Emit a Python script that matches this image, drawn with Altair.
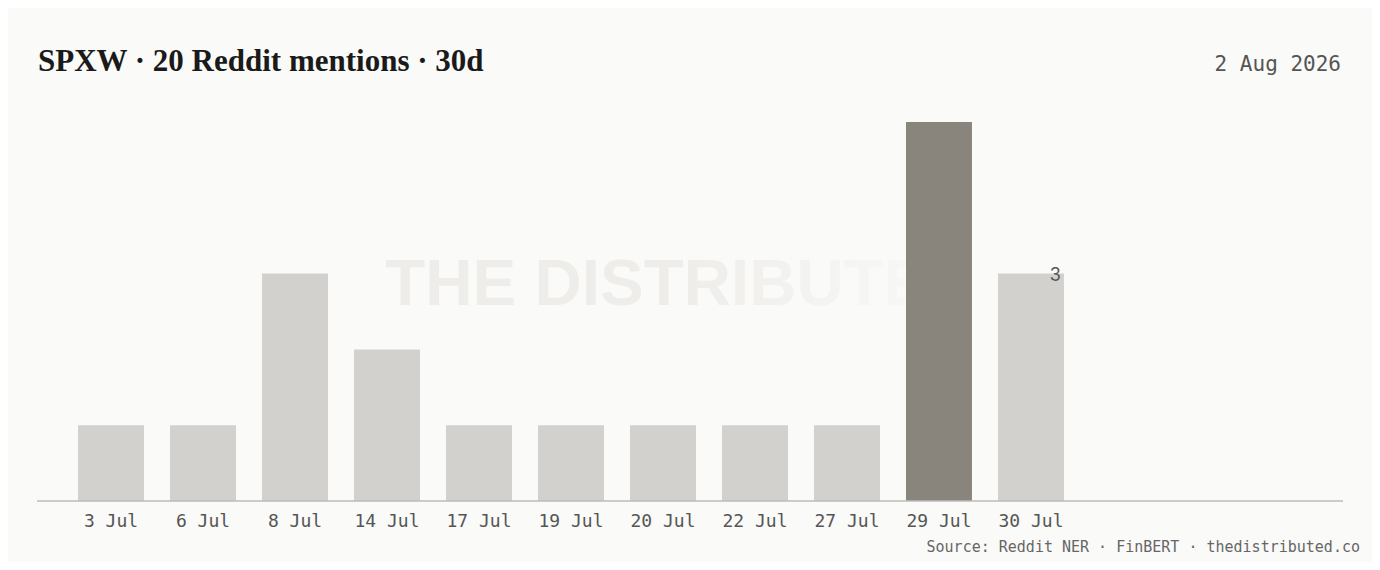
import pandas as pd
import altair as alt

# mentions per day, last 30 days
days = ["3 Jul", "6 Jul", "8 Jul", "14 Jul", "17 Jul", "19 Jul", "20 Jul",
        "22 Jul", "27 Jul", "29 Jul", "30 Jul"]
mentions = [1, 1, 3, 2, 1, 1, 1, 1, 1, 5, 3]

TITLE = "SPXW · 20 Reddit mentions · 30d"
DATE_LABEL = "2 Aug 2026"
SOURCE = "Source: Reddit NER · FinBERT · thedistributed.co"
WATERMARK = "THE DISTRIBUTED"

BG = "#FAFAF8"
BAR = "#D3D1CD"
PEAK = "#8A857C"
INK = "#555555"
MONO = "DejaVu Sans Mono"

W, H = 1306, 379

df = pd.DataFrame({"day": days, "mentions": mentions})
df["peak"] = df["mentions"] == df["mentions"].max()

x_enc = alt.X("day:N", sort=days, title=None,
              scale=alt.Scale(range=[0, 1068], paddingInner=0.283, paddingOuter=0.446),
              axis=alt.Axis(domain=False, ticks=False, labelAngle=0, labelFont=MONO,
                            labelFontSize=18, labelColor=INK, labelPadding=11))
y_enc = alt.Y("mentions:Q", title=None, axis=None,
              scale=alt.Scale(domain=[0, 5], nice=False))


def label(text, **mark):
    # one-row layer for a piece of free text
    return alt.Chart(pd.DataFrame({"t": [text]})).mark_text(**mark).encode(text="t:N")


watermark = label(
    WATERMARK, font="Liberation Sans", fontWeight="bold", fontSize=65.5,
    align="center", baseline="middle",
    color=alt.Gradient(gradient="linear", x1=0, x2=1, y1=0, y2=0,
                       stops=[alt.GradientStop(color="#EEEDEA", offset=0),
                              alt.GradientStop(color="#EEEDEA", offset=0.5),
                              alt.GradientStop(color=BG, offset=1)])
).encode(x=alt.value(643), y=alt.value(163))

bars = alt.Chart(df).mark_bar().encode(
    x=x_enc,
    y=y_enc,
    color=alt.condition(alt.datum.peak, alt.value(PEAK), alt.value(BAR)),
)

last_label = alt.Chart(df.tail(1)).mark_text(
    font="Inter", fontSize=18, color=INK, align="right", baseline="middle", dx=-3, dy=2
).encode(
    x=alt.X("day:N", sort=days, bandPosition=1),
    y="mentions:Q",
    text="mentions:Q",
)

baseline = alt.Chart(pd.DataFrame({"v": [0]})).mark_rule(
    color="#BDBBB7", strokeWidth=1.5
).encode(y="v:Q", x=alt.value(0), x2=alt.value(W))

title_text = label(TITLE, font="Liberation Serif", fontSize=31, fontWeight="bold",
                   color="#1A1A1A", align="left", baseline="alphabetic",
                   limit=0).encode(x=alt.value(1), y=alt.value(-51))

date_text = label(DATE_LABEL, font=MONO, fontSize=21, color=INK,
                  align="right", baseline="alphabetic"
                  ).encode(x=alt.value(1304), y=alt.value(-51))

source_text = label(SOURCE, font=MONO, fontSize=15, color="#666666",
                    align="right", baseline="middle"
                    ).encode(x=alt.value(1323), y=alt.value(425))

chart = alt.layer(
    watermark, bars, baseline, last_label, title_text, date_text, source_text
).properties(
    width=W,
    height=H,
    autosize=alt.AutoSizeParams(type="none"),
    padding={"left": 29, "top": 114, "right": 29, "bottom": 61},
    background=BG,
).configure_view(stroke=None)

chart.save("out.html", embed_options={"renderer": "svg", "actions": False})
